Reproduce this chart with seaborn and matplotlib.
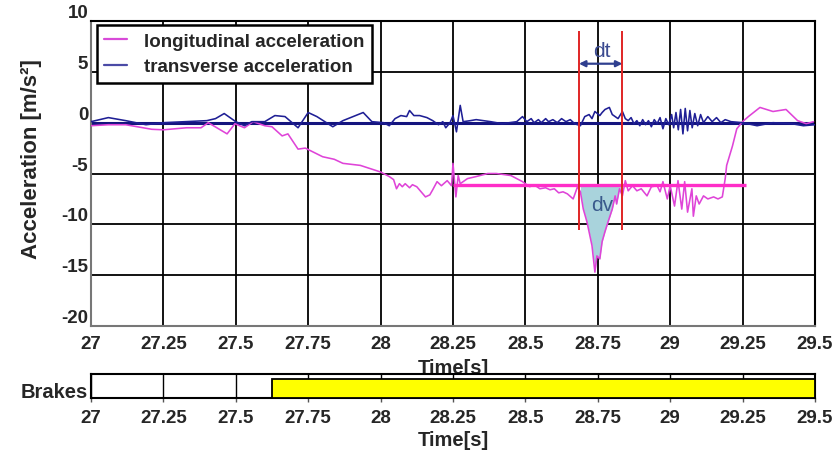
import numpy as np
import pandas as pd
import matplotlib
matplotlib.use("Agg")
import matplotlib.pyplot as plt
from matplotlib.lines import Line2D
import seaborn as sns

# ---------------- data ----------------
t_lon = [27.00, 27.06, 27.12, 27.15, 27.21, 27.25, 27.33, 27.38, 27.405, 27.47,
         27.497, 27.53, 27.56, 27.60, 27.625, 27.66, 27.68, 27.715, 27.74, 27.80,
         27.84, 27.87, 27.93, 28.00, 28.03, 28.045, 28.055, 28.065, 28.075, 28.085,
         28.10, 28.11, 28.125, 28.14, 28.155, 28.17, 28.18, 28.195, 28.21, 28.23,
         28.245, 28.25, 28.26, 28.268, 28.275, 28.285, 28.30, 28.33, 28.37, 28.40,
         28.45, 28.49, 28.50, 28.515, 28.53, 28.55, 28.57, 28.585, 28.60, 28.615,
         28.63, 28.645, 28.665, 28.68, 28.69, 28.70, 28.713, 28.73, 28.735, 28.74,
         28.747, 28.757, 28.765, 28.775, 28.785, 28.80, 28.81, 28.815, 28.825, 28.835,
         28.845, 28.855, 28.87, 28.885, 28.90, 28.92, 28.935, 28.955, 28.965, 28.975,
         28.99, 29.00, 29.015, 29.027, 29.04, 29.05, 29.06, 29.075, 29.08, 29.09,
         29.10, 29.115, 29.13, 29.15, 29.165, 29.18, 29.19, 29.195, 29.215, 29.23,
         29.25, 29.27, 29.31, 29.355, 29.40, 29.44, 29.47, 29.495]
a_lon = [-0.3, -0.2, -0.2, -0.35, -0.65, -0.7, -0.5, -0.5, 0.0, -1.1,
         -0.1, -0.5, 0.1, -0.3, -0.4, -1.3, -1.1, -2.6, -2.5, -3.35,
         -3.6, -4.0, -4.2, -4.85, -5.3, -5.6, -6.5, -6.0, -6.3, -6.0,
         -6.4, -6.1, -6.3, -6.8, -7.3, -7.1, -6.6, -5.8, -6.2, -5.7,
         -6.2, -4.0, -7.3, -5.2, -6.0, -5.8, -5.5, -5.3, -5.0, -5.0,
         -5.2, -5.8, -6.0, -6.3, -6.1, -6.5, -6.4, -6.6, -6.5, -6.9,
         -6.8, -7.0, -7.5, -6.3, -6.8, -8.5, -9.8, -12.1, -13.4, -14.7,
         -13.1, -13.4, -11.7, -10.7, -9.8, -8.5, -7.2, -8.0, -6.5, -7.2,
         -5.7, -6.7, -6.2, -6.7, -6.5, -7.2, -6.3, -6.2, -6.8, -5.8,
         -7.5, -6.2, -8.2, -5.7, -8.5, -5.8, -8.8, -6.5, -9.2, -7.2,
         -8.0, -7.2, -7.5, -7.3, -7.5, -7.3, -5.5, -4.2, -2.3, -0.6,
         0.1, 0.6, 1.5, 1.1, 1.3, 0.2, -0.1, 0.1]

t_tr = [27.00, 27.06, 27.12, 27.19, 27.25, 27.40, 27.43, 27.46, 27.50, 27.53,
        27.555, 27.60, 27.635, 27.67, 27.715, 27.75, 27.78, 27.835, 27.87, 27.905,
        27.94, 27.97, 28.01, 28.03, 28.05, 28.07, 28.09, 28.10, 28.115, 28.135,
        28.16, 28.18, 28.20, 28.215, 28.225, 28.24, 28.25, 28.262, 28.275, 28.285,
        28.31, 28.33, 28.38, 28.42, 28.47, 28.49, 28.505, 28.52, 28.53, 28.545,
        28.555, 28.57, 28.58, 28.595, 28.61, 28.625, 28.64, 28.655, 28.67, 28.69,
        28.705, 28.72, 28.73, 28.74, 28.757, 28.765, 28.775, 28.79, 28.80, 28.81,
        28.82, 28.835, 28.845, 28.855, 28.865, 28.875, 28.885, 28.895, 28.905, 28.915,
        28.925, 28.935, 28.945, 28.955, 28.965, 28.975, 28.985, 28.995, 29.005, 29.012,
        29.02, 29.028, 29.036, 29.044, 29.052, 29.06, 29.068, 29.076, 29.085, 29.095,
        29.105, 29.115, 29.13, 29.145, 29.16, 29.175, 29.19, 29.21, 29.25, 29.30,
        29.355, 29.42, 29.46, 29.50]
a_tr = [0.1, 0.5, 0.2, -0.2, 0.0, 0.2, 0.4, 0.9, 0.1, -0.3,
        0.1, 0.1, 0.7, 0.6, -0.5, 1.0, 0.6, -0.4, 0.2, 0.6,
        1.0, 0.1, 0.0, -0.3, 0.4, 0.7, 0.6, 1.2, 0.7, 0.7,
        0.5, 0.2, -0.2, 0.1, -0.5, 0.0, 0.7, -0.9, 1.7, 0.1,
        0.2, 0.3, 0.1, -0.1, 0.1, 0.6, 0.1, 0.4, 0.0, 0.3,
        0.0, 0.4, 0.1, 0.3, 0.0, 0.4, 0.1, 0.3, -0.1, -0.3,
        0.6, 0.8, 0.4, 1.1, 0.7, 1.0, 1.3, 1.5, 0.8, 0.6,
        0.4, 1.1, 0.4, 0.2, 0.5, -0.1, 0.2, -0.3, 0.3, -0.2,
        0.2, -0.4, 0.3, -0.1, 0.5, -0.6, 0.4, -0.2, 0.8, -0.5,
        1.0, -0.7, 1.3, -1.1, 1.4, -0.8, 1.2, -0.5, 0.9, -0.3,
        0.8, 0.0, 0.6, 0.1, 0.5, 0.0, 0.3, 0.1, 0.0, -0.3,
        0.0, -0.1, -0.3, -0.2]

series_names = ["longitudinal acceleration", "transverse acceleration"]
x_ticks = [27, 27.25, 27.5, 27.75, 28, 28.25, 28.5, 28.75, 29, 29.25, 29.5]
x_tick_labels = ["27", "27.25", "27.5", "27.75", "28", "28.25", "28.5", "28.75", "29", "29.25", "29.5"]
y_ticks = [-20, -15, -10, -5, 0, 5, 10]
dt_start, dt_end = 28.685, 28.835
red_line_bottom, red_line_top = -10.6, 9.0
ref_level = -6.15
ref_start, ref_end = 28.25, 29.262
dt_arrow_y = 5.8
brake_on, brake_off = 27.625, 29.5

# ---------------- styling ----------------
sns.set_style("white")
plt.rcParams['font.family'] = ['Liberation Sans', 'DejaVu Sans']

c_lon = "#df44d8"
c_tr = "#1f1f95"
c_ref = "#ff2ec8"
c_red = "#e02525"
c_anno = "#2f3f8f"

fig = plt.figure(figsize=(8.37, 4.52), dpi=100)
ax = fig.add_axes([0.1087, 0.2765, 0.865, 0.6748])
axb = fig.add_axes([0.1087, 0.1173, 0.865, 0.0531])

df = pd.concat([
    pd.DataFrame({"Time": t_lon, "Acc": a_lon, "series": series_names[0]}),
    pd.DataFrame({"Time": t_tr, "Acc": a_tr, "series": series_names[1]}),
], ignore_index=True)

t_arr = np.array(t_lon)
a_arr = np.array(a_lon)
mask = (t_arr >= dt_start - 1e-9) & (t_arr <= dt_end + 1e-9)
ax.fill_between(t_arr[mask], a_arr[mask], ref_level, where=a_arr[mask] < ref_level,
                interpolate=True, color="#a9d3dc", lw=0, zorder=2)

sns.lineplot(data=df, x="Time", y="Acc", hue="series",
             palette={series_names[0]: c_lon, series_names[1]: c_tr},
             hue_order=series_names, estimator=None, sort=False,
             linewidth=1.15, legend=False, ax=ax, zorder=3)

ax.axhline(0, color="#14147e", lw=2.2, zorder=2.5)
ax.hlines(ref_level, ref_start, ref_end, color=c_ref, lw=2.4, zorder=4)
ax.vlines([dt_start, dt_end], red_line_bottom, red_line_top, color=c_red, lw=1.4, zorder=5)
ax.annotate("", xy=(dt_start, dt_arrow_y), xytext=(dt_end, dt_arrow_y),
            arrowprops=dict(arrowstyle="<|-|>", color=c_anno, lw=1.6,
                            mutation_scale=9, shrinkA=0, shrinkB=0), zorder=6)
ax.text((dt_start + dt_end) / 2 + 0.005, 7.1, "dt", ha="center", va="center",
        fontsize=15, color="#3b4a90", zorder=6)
ax.text((dt_start + dt_end) / 2 + 0.005, -8.0, "dv", ha="center", va="center",
        fontsize=15, color="#3a5a8c", zorder=6)

ax.set_xlim(27, 29.5)
ax.set_ylim(-20, 10)
ax.set_xticks(x_ticks)
ax.set_xticklabels(x_tick_labels, fontsize=13.5, fontweight="bold")
ax.set_yticks(y_ticks)
ax.set_yticklabels([str(v) for v in y_ticks], fontsize=13.5, fontweight="bold")
for lbl in ax.get_yticklabels():
    lbl.set_va("bottom")
ax.tick_params(axis="x", length=0, pad=6.5)
ax.tick_params(axis="y", length=0, pad=2)
ax.grid(True, color="black", lw=1.3)
ax.set_axisbelow(True)
ax.set_xlabel("Time[s]", fontsize=14.5, fontweight="bold", labelpad=4)
ax.set_ylabel("Acceleration [m/s²]", fontsize=16, fontweight="bold")
ax.yaxis.set_label_coords(-0.068, 0.55)
for side in ["top", "right"]:
    ax.spines[side].set_color("black")
    ax.spines[side].set_linewidth(1.5)
for side in ["left", "bottom"]:
    ax.spines[side].set_color("#777777")
    ax.spines[side].set_linewidth(1.5)

handles = [Line2D([0], [0], color="#d84ad8", lw=1.6),
           Line2D([0], [0], color="#4a4aa6", lw=1.6)]
leg = ax.legend(handles, series_names, loc="upper left", bbox_to_anchor=(0.008, 0.986),
                prop={"weight": "bold", "size": 13.5}, frameon=True, fancybox=False,
                handlelength=1.2, handletextpad=0.9, labelspacing=0.45,
                borderpad=0.4, borderaxespad=0)
leg.get_frame().set_edgecolor("black")
leg.get_frame().set_linewidth(1.8)
leg.get_frame().set_alpha(1)
leg.set_zorder(10)

# brakes panel
axb.set_xlim(27, 29.5)
axb.set_ylim(0, 1)
axb.barh(0.4, brake_off - brake_on, left=brake_on, height=0.8,
         color="#ffff00", edgecolor="black", lw=1.3, zorder=3)
axb.set_xticks(x_ticks)
axb.set_xticklabels(x_tick_labels, fontsize=13.5, fontweight="bold")
axb.set_yticks([])
axb.tick_params(axis="x", length=3, width=1, pad=5, color="#555555", bottom=True)
axb.grid(True, axis="x", color="black", lw=1.0)
axb.set_axisbelow(True)
axb.set_xlabel("Time[s]", fontsize=14.5, fontweight="bold", labelpad=3)
for side in ["top", "bottom", "left", "right"]:
    axb.spines[side].set_color("black")
    axb.spines[side].set_linewidth(1.5)
axb.text(-0.004, 0.04, "Brakes", transform=axb.transAxes, ha="right", va="baseline",
         fontsize=14.5, fontweight="bold")

fig.savefig("out.png", dpi=100)
